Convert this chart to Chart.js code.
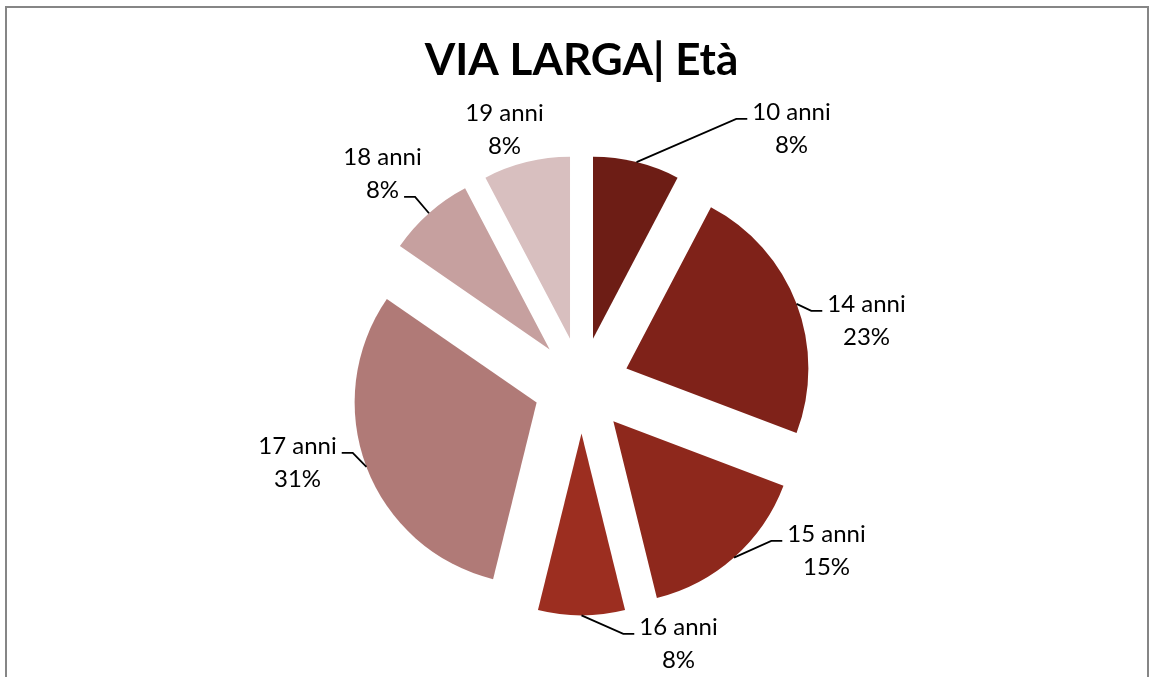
<!DOCTYPE html>
<html>
<head>
<meta charset="utf-8">
<script src="https://cdn.jsdelivr.net/npm/chart.js@4.4.1/dist/chart.umd.min.js"></script>
<style>
  html, body { margin: 0; padding: 0; background: #fff; }
  #wrap { width: 1151px; height: 677px; }
</style>
</head>
<body>
<div id="wrap"><canvas id="grafico" width="1151" height="677"></canvas></div>
<script>
const categorie = ["10 anni", "14 anni", "15 anni", "16 anni", "17 anni", "18 anni", "19 anni"];
// numero di persone per età (13 in tutto: 8% = 1, 15% = 2, 23% = 3, 31% = 4)
const persone = [1, 3, 2, 1, 4, 1, 1];
const colori = ["#6d1d15", "#7f2219", "#8e281c", "#9c2e20", "#b07a77", "#c6a09f", "#d8bfbf"];

// posizione delle etichette rispetto al centro della torta (come le mette Excel)
const posEtichette = [[210, -257], [285, -65], [245, 165], [97, 258], [-284, 77], [-199, -212], [-77, -256]];
// riga dell'etichetta a cui si attacca la linea guida (null = nessuna linea)
const rigaGuida = [0, 0, 0, 0, 0, 1, null];

const ESPLOSO = 48;   // distacco delle fette dal centro
const RAGGIO = 182;
const FONT = "Lato, 'Open Sans', sans-serif";

const totale = persone.reduce((s, v) => s + v, 0);

// cornice grigia attorno al grafico
const cornice = {
  id: "cornice",
  beforeDraw(chart) {
    const ctx = chart.ctx;
    ctx.save();
    ctx.strokeStyle = "#868686";
    ctx.lineWidth = 2;
    ctx.strokeRect(6, 7, 1142, 700);
    ctx.restore();
  }
};

// sposta ogni fetta verso l'esterno lungo la sua bisettrice
const esplodi = {
  id: "esplodi",
  afterDatasetUpdate(chart, args) {
    const meta = chart.getDatasetMeta(args.index);
    meta.data.forEach(arco => {
      const mid = (arco.startAngle + arco.endAngle) / 2;
      arco.x += Math.cos(mid) * ESPLOSO;
      arco.y += Math.sin(mid) * ESPLOSO;
    });
  }
};

// etichette "xx anni / yy%" con linee guida
const etichette = {
  id: "etichette",
  afterDatasetsDraw(chart) {
    const ctx = chart.ctx;
    const area = chart.chartArea;
    const cx = (area.left + area.right) / 2;
    const cy = (area.top + area.bottom) / 2;
    const archi = chart.getDatasetMeta(0).data;
    ctx.save();
    ctx.font = "24px " + FONT;
    ctx.fillStyle = "#000";
    ctx.strokeStyle = "#000";
    ctx.lineWidth = 1.8;
    ctx.textAlign = "center";
    ctx.textBaseline = "middle";
    archi.forEach((arco, i) => {
      const perc = Math.round(persone[i] / totale * 100);
      const righe = [categorie[i], perc + "%"];
      const lx = cx + posEtichette[i][0];
      const ly = cy + posEtichette[i][1];
      const yRighe = [ly - 16.5, ly + 16.5];
      righe.forEach((t, k) => ctx.fillText(t, lx, yRighe[k]));

      const r = rigaGuida[i];
      if (r === null) return;
      const mid = (arco.startAngle + arco.endAngle) / 2;
      const ax = arco.x + Math.cos(mid) * arco.outerRadius;
      const ay = arco.y + Math.sin(mid) * arco.outerRadius;
      const w = ctx.measureText(righe[r]).width;
      const destra = lx > ax;
      const ex = destra ? lx - w / 2 - 5 : lx + w / 2 + 5;
      const gx = destra ? ex - 11 : ex + 11;
      const ey = yRighe[r] + 7;
      ctx.beginPath();
      ctx.moveTo(ax, ay);
      ctx.lineTo(gx, ey);
      ctx.lineTo(ex, ey);
      ctx.stroke();
    });
    ctx.restore();
  }
};

new Chart(document.getElementById("grafico"), {
  type: "pie",
  data: {
    labels: categorie,
    datasets: [{
      data: persone,
      backgroundColor: colori,
      borderWidth: 0,
      radius: RAGGIO
    }]
  },
  options: {
    responsive: false,
    animation: false,
    layout: { padding: { left: 12, right: 0, top: 0, bottom: 0 } },
    plugins: {
      legend: { display: false },
      tooltip: { enabled: false },
      title: {
        display: true,
        text: "VIA LARGA| Età",
        color: "#000",
        font: { family: FONT, size: 44, weight: "bold", lineHeight: 1.2 },
        padding: { top: 34, bottom: 7 }
      }
    }
  },
  plugins: [cornice, esplodi, etichette]
});
</script>
</body>
</html>
